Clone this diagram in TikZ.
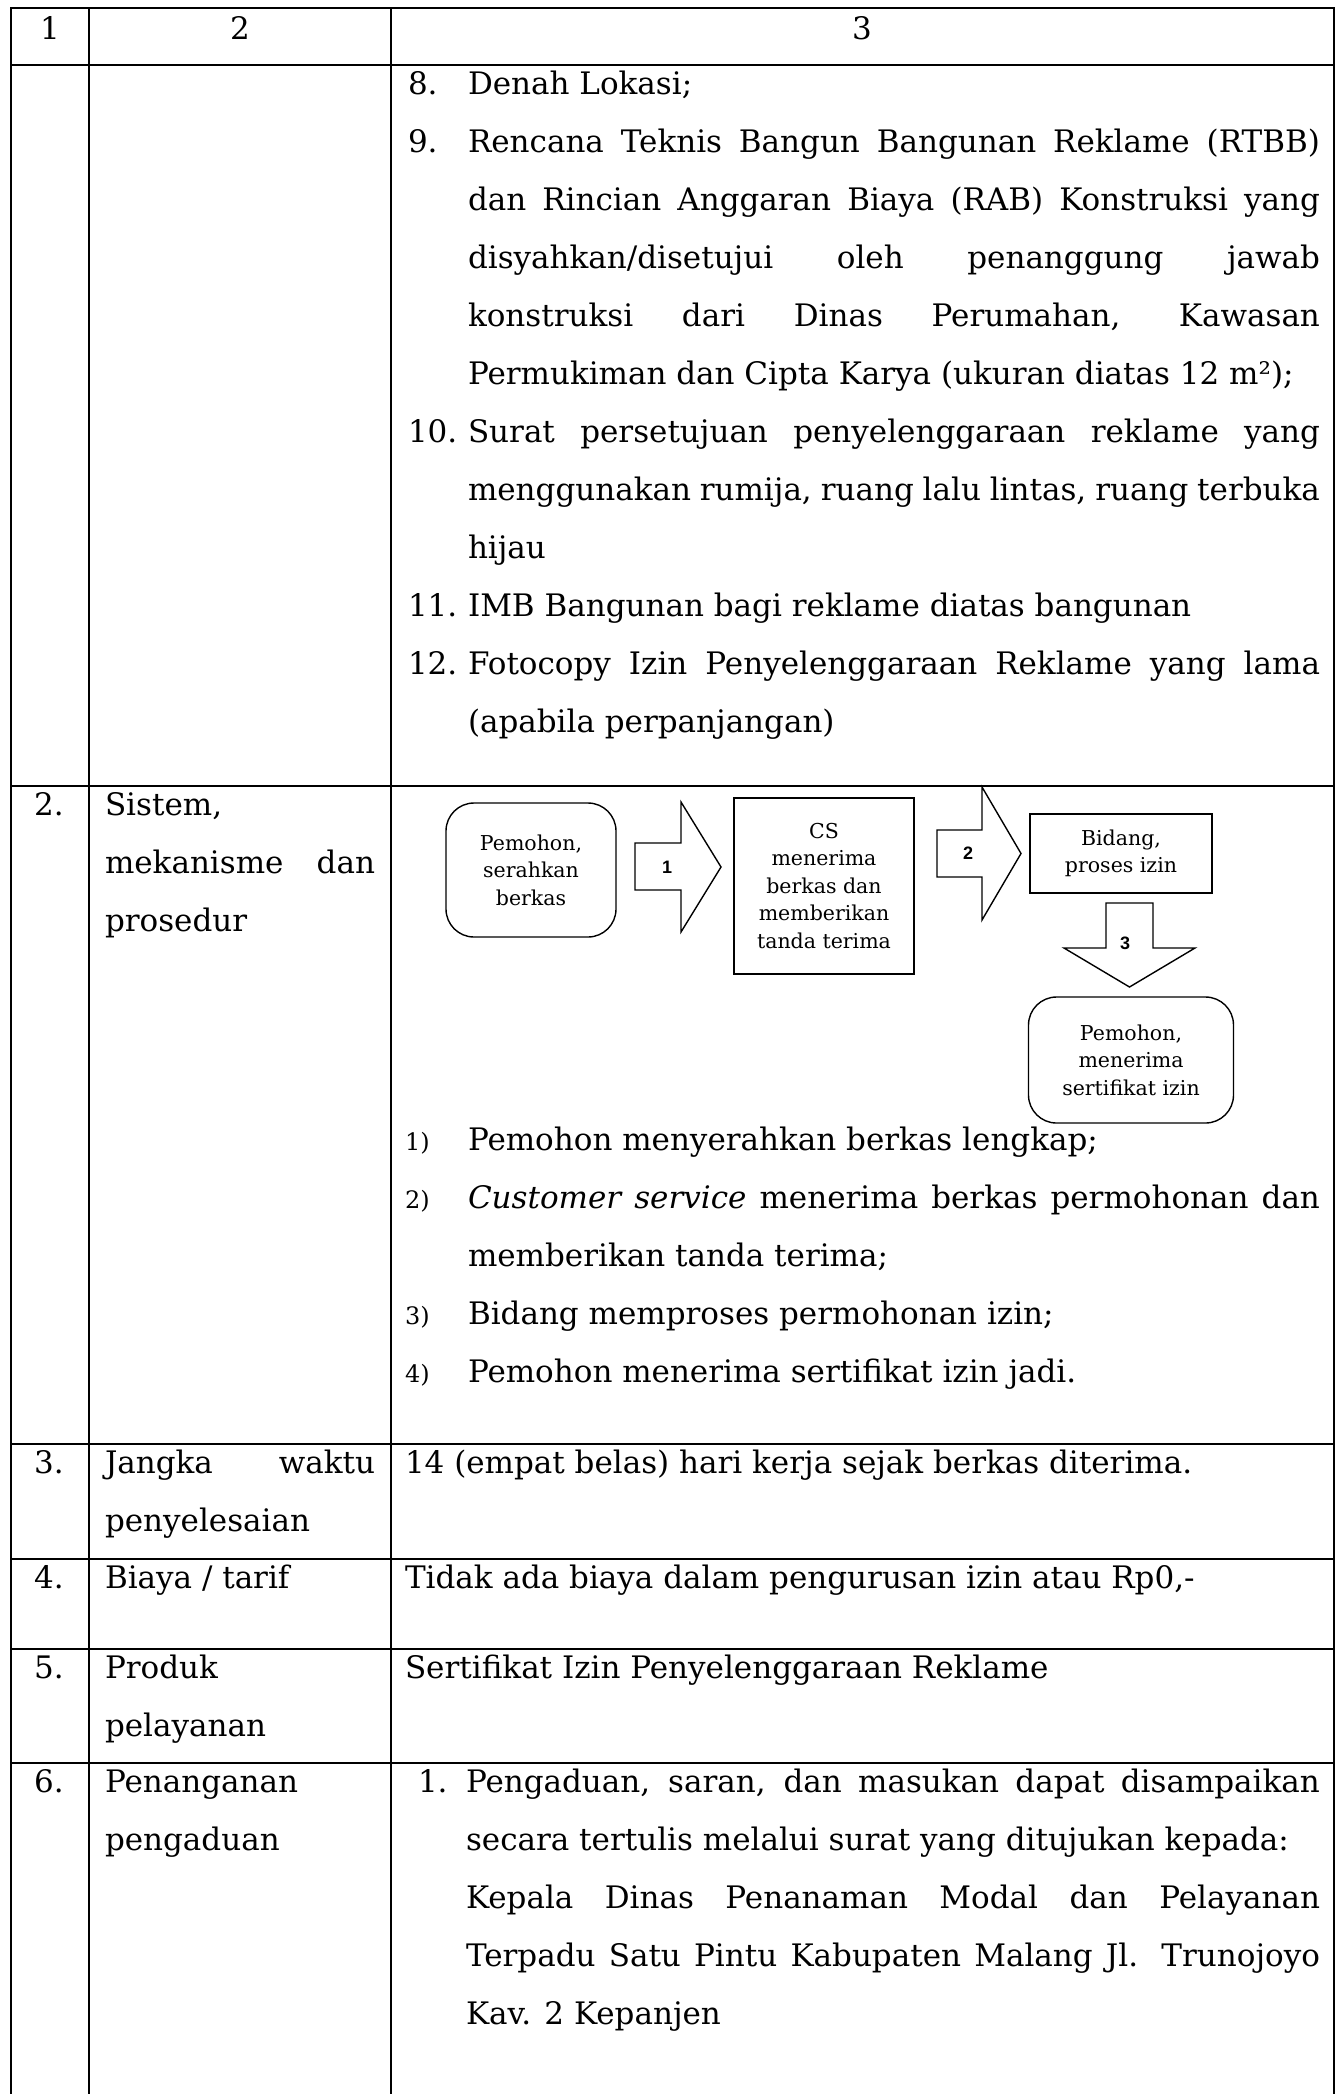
\documentclass[tikz,border=0pt]{standalone}
\usepackage{fontspec}
\setmainfont{DejaVu Serif}
\newfontfamily\lblfont{Liberation Sans}
\newcommand{\JustL}[1]{\makebox[852pt][s]{#1}}
\newcommand{\JustS}[1]{\makebox[854pt][s]{#1}}
\newcommand{\JustC}[1]{\makebox[270pt][s]{#1}}
\begin{document}
\begin{tikzpicture}[x=1pt,y=-1pt,
  grid/.style={line width=2.2pt, line cap=rect},
  body/.style={anchor=base west, inner sep=0pt, outer sep=0pt, font=\fontsize{31}{37}\selectfont},
  cbody/.style={body, anchor=base},
  numsmall/.style={anchor=base west, inner sep=0pt, font=\fontsize{24}{28}\selectfont},
  flow/.style={draw, line width=1.4pt, align=center, inner sep=0pt, font=\fontsize{20.5}{27.5}\selectfont},
  blk/.style={draw, line width=1.4pt, line join=miter, fill=white},
  albl/.style={inner sep=0pt, font=\lblfont\bfseries\fontsize{18}{18}\selectfont}]
\fill[white] (0,0) rectangle (1344,2094);
\useasboundingbox (0,0) rectangle (1344,2094);

% ---------- table grid ----------
\draw[grid] (11,2094) -- (11,8) -- (1334,8) -- (1334,2094);
\draw[grid] (89,8) -- (89,2094);
\draw[grid] (391,8) -- (391,2094);
\foreach \yy in {65,786,1444,1559,1649,1763} \draw[grid] (11,\yy) -- (1334,\yy);

% ---------- header ----------
\node[cbody] (h1) at (50,39) {1};
\node[cbody] (h2) at (240,39) {2};
\node[cbody] (h3) at (862,39) {3};

% ---------- row 1 ----------
\node[body] (n8)  at (408,94)  {8.};
\node[body] (t8)  at (468,94)  {Denah Lokasi;};
\node[body] (n9)  at (408,152) {9.};
\node[body] (t9a) at (468,152) {\JustL{Rencana Teknis Bangun Bangunan Reklame (RTBB)}};
\node[body] (t9b) at (468,210) {\JustL{dan Rincian Anggaran Biaya (RAB) Konstruksi yang}};
\node[body] (t9c) at (468,268) {\JustL{disyahkan/disetujui oleh penanggung jawab}};
\node[body] (t9d) at (468,326) {\JustL{konstruksi dari Dinas Perumahan, Kawasan}};
\node[body] (t9e) at (468,384) {Permukiman dan Cipta Karya (ukuran diatas 12 m²);};
\node[body] (n10) at (408,442) {10.};
\node[body] (t10a) at (468,442) {\JustL{Surat persetujuan penyelenggaraan reklame yang}};
\node[body] (t10b) at (468,500) {\JustL{menggunakan rumija, ruang lalu lintas, ruang terbuka}};
\node[body] (t10c) at (468,558) {hijau};
\node[body] (n11) at (408,616) {11.};
\node[body] (t11) at (468,616) {IMB Bangunan bagi reklame diatas bangunan};
\node[body] (n12) at (408,674) {12.};
\node[body] (t12a) at (468,674) {\JustL{Fotocopy Izin Penyelenggaraan Reklame yang lama}};
\node[body] (t12b) at (468,732) {(apabila perpanjangan)};

% ---------- row 2 ----------
\node[cbody] (r2n) at (49,815) {2.};
\node[body] (r2a) at (105,815) {Sistem,};
\node[body] (r2b) at (105,873) {\JustC{mekanisme dan}};
\node[body] (r2c) at (105,931) {prosedur};

% flowchart
\node[flow, rounded corners=28pt, minimum width=170pt, minimum height=134pt] (boxA) at (531,870) {Pemohon,\\serahkan\\berkas};
\node[flow, minimum width=180pt, minimum height=176pt] (boxB) at (824,886) {CS\\menerima\\berkas dan\\memberikan\\tanda terima};
\node[flow, minimum width=182pt, minimum height=79pt] (boxC) at (1121,853.5) {Bidang,\\proses izin};
\node[flow, rounded corners=28pt, minimum width=205pt, minimum height=126pt] (boxD) at (1131,1060) {Pemohon,\\menerima\\sertifikat izin};

\draw[blk] (635,843) -- (681,843) -- (681,802) -- (721,867) -- (681,932) -- (681,890) -- (635,890) -- cycle;
\draw[blk] (937,830) -- (982,830) -- (982,787) -- (1021,853.5) -- (982,920) -- (982,877) -- (937,877) -- cycle;
\draw[blk] (1106,903) -- (1153,903) -- (1153,948) -- (1195,948) -- (1129.5,987) -- (1064,948) -- (1106,948) -- cycle;
\node[albl] (lbl1) at (667,867) {1};
\node[albl] (lbl2) at (968,853) {2};
\node[albl] (lbl3) at (1125,943) {3};

% steps list
\node[numsmall] (s1n) at (405,1150) {1)};
\node[body] (s1) at (468,1150) {Pemohon menyerahkan berkas lengkap;};
\node[numsmall] (s2n) at (405,1208) {2)};
\node[body] (s2a) at (468,1208) {\JustL{\textit{Customer service} menerima berkas permohonan dan}};
\node[body] (s2b) at (468,1266) {memberikan tanda terima;};
\node[numsmall] (s3n) at (405,1324) {3)};
\node[body] (s3) at (468,1324) {Bidang memproses permohonan izin;};
\node[numsmall] (s4n) at (405,1382) {4)};
\node[body] (s4) at (468,1382) {Pemohon menerima sertifikat izin jadi.};

% ---------- row 3 ----------
\node[cbody] (r3n) at (49,1473) {3.};
\node[body] (r3a) at (105,1473) {\JustC{Jangka waktu}};
\node[body] (r3b) at (105,1531) {penyelesaian};
\node[body] (r3t) at (405,1473) {14 (empat belas) hari kerja sejak berkas diterima.};

% ---------- row 4 ----------
\node[cbody] (r4n) at (49,1588) {4.};
\node[body] (r4a) at (105,1588) {Biaya / tarif};
\node[body] (r4t) at (405,1588) {Tidak ada biaya dalam pengurusan izin atau Rp0,-};

% ---------- row 5 ----------
\node[cbody] (r5n) at (49,1678) {5.};
\node[body] (r5a) at (105,1678) {Produk};
\node[body] (r5b) at (105,1736) {pelayanan};
\node[body] (r5t) at (405,1678) {Sertifikat Izin Penyelenggaraan Reklame};

% ---------- row 6 ----------
\node[cbody] (r6n) at (49,1792) {6.};
\node[body] (r6a) at (105,1792) {Penanganan};
\node[body] (r6b) at (105,1850) {pengaduan};
\node[body] (r6num) at (418,1792) {1.};
\node[body] (r6l1) at (466,1792) {\JustS{Pengaduan, saran, dan masukan dapat disampaikan}};
\node[body] (r6l2) at (466,1850) {secara tertulis melalui surat yang ditujukan kepada:};
\node[body] (r6l3) at (466,1908) {\JustS{Kepala Dinas Penanaman Modal dan Pelayanan}};
\node[body] (r6l4) at (466,1966) {\JustS{Terpadu Satu Pintu Kabupaten Malang Jl. Trunojoyo}};
\node[body] (r6l5) at (466,2024) {Kav. 2 Kepanjen};
\end{tikzpicture}
\end{document}
